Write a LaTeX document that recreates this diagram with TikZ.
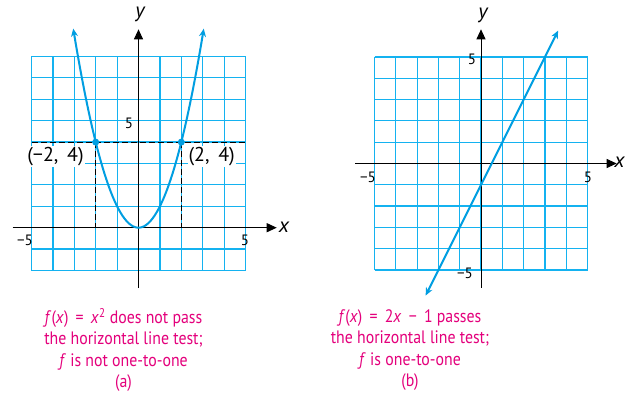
\documentclass[tikz,border=0pt]{standalone}
\usepackage{fontspec}
\setmainfont{PT Sans}
\newfontfamily\capfont[FakeStretch=0.88]{PT Sans}
\usetikzlibrary{arrows.meta}
\definecolor{gridc}{RGB}{20,178,240}
\definecolor{curvec}{RGB}{0,158,225}
\definecolor{capc}{RGB}{228,0,124}
\tikzset{
  gridline/.style={draw=gridc, line width=1.2pt},
  dashline/.style={draw=black, line width=1pt, dash pattern=on 6pt off 3pt},
  axisline/.style={draw=black, line width=1pt, -{Triangle[length=10pt,width=9pt]}},
  curveline/.style={draw=curvec, line width=2pt, {Stealth[length=8pt,width=7pt]}-{Stealth[length=8pt,width=7pt]}},
  ticklab/.style={font=\fontsize{15}{15}\selectfont, inner sep=0pt},
  axlab/.style={font=\fontsize{21}{21}\selectfont\itshape, inner sep=0pt},
  ptlab/.style={font=\fontsize{20}{20}\selectfont, fill=white, inner sep=1pt},
  caption/.style={font=\capfont\fontsize{18}{21.3}\selectfont, text=capc, align=center, inner sep=0pt},
  ptdot/.style={fill=curvec, circle, inner sep=0pt, minimum size=7pt}
}
\begin{document}
\begin{tikzpicture}[x=1pt,y=-1pt]
\useasboundingbox (0,0) rectangle (626,395);
\fill[white] (0,0) rectangle (626,395);

% ---------- left graph ----------
\coordinate (O1) at (138.5,227.7);
\begin{scope}[shift={(O1)}, x=21.4pt, y=21.4pt]
  \foreach \i in {-5,...,5} \draw[gridline] (\i,-2) -- (\i,8);
  \foreach \j in {-2,...,8} \draw[gridline] (-5,\j) -- (5,\j);
\end{scope}
\node[ptlab] (pA) at (55.5,156.5) {(−2, \,4)};
\node[ptlab] (pB) at (211.7,156.5) {(2, \,4)};
\begin{scope}[shift={(O1)}, x=21.4pt, y=21.4pt]
  \draw[dashline] (-5,4) -- (5,4);
  \draw[dashline] (-2,4) -- (-2,0);
  \draw[dashline] (2,4) -- (2,0);
  \draw[axisline] (-5.88,0) -- (6.46,0);
  \draw[axisline] (0,-2.82) -- (0,9.27);
  \draw[curveline] plot[domain=-3.05:3.05, samples=80, smooth] (\x,{\x*\x});
  \node[ptdot] (d1) at (-2,4) {};
  \node[ptdot] (d2) at (2,4) {};
\end{scope}
\node[ticklab] (l5a) at (25,240) {−5};
\node[ticklab] (l5b) at (245,240) {5};
\node[ticklab] (l5c) at (129,123) {5};
\node[axlab] (ly1) at (140,14) {y};
\node[axlab] (lx1) at (284,227) {x};

% ---------- right graph ----------
\coordinate (O2) at (481,163.5);
\begin{scope}[shift={(O2)}, x=21.3pt, y=21.3pt]
  \foreach \i in {-5,...,5} \draw[gridline] (\i,-5) -- (\i,5);
  \foreach \j in {-5,...,5} \draw[gridline] (-5,\j) -- (5,\j);
  \draw[axisline] (-5.9,0) -- (6.37,0);
  \draw[axisline] (0,-5.84) -- (0,6.3);
  \draw[curveline] (-2.6,-6.2) -- (3.62,6.24);
\end{scope}
\node[ticklab] (r5a) at (472,59) {5};
\node[ticklab] (r5b) at (465,273) {−5};
\node[ticklab] (r5c) at (368,177) {−5};
\node[ticklab] (r5d) at (588,177) {5};
\node[axlab] (ly2) at (483,15) {y};
\node[axlab] (lx2) at (619.5,162) {x};

% ---------- captions ----------
\node[caption] (capA) at (123.5,350) {\textit{f}(\textit{x}) \,=\, \textit{x}\textsuperscript{2} does not pass\\the horizontal line test;\\\textit{f} is not one-to-one\\(a)};
\node[caption] (capB) at (410,350) {\textit{f}(\textit{x}) \,=\, 2\textit{x} \,−\, 1 passes\\the horizontal line test;\\\textit{f} is one-to-one\\(b)};
\end{tikzpicture}
\end{document}
